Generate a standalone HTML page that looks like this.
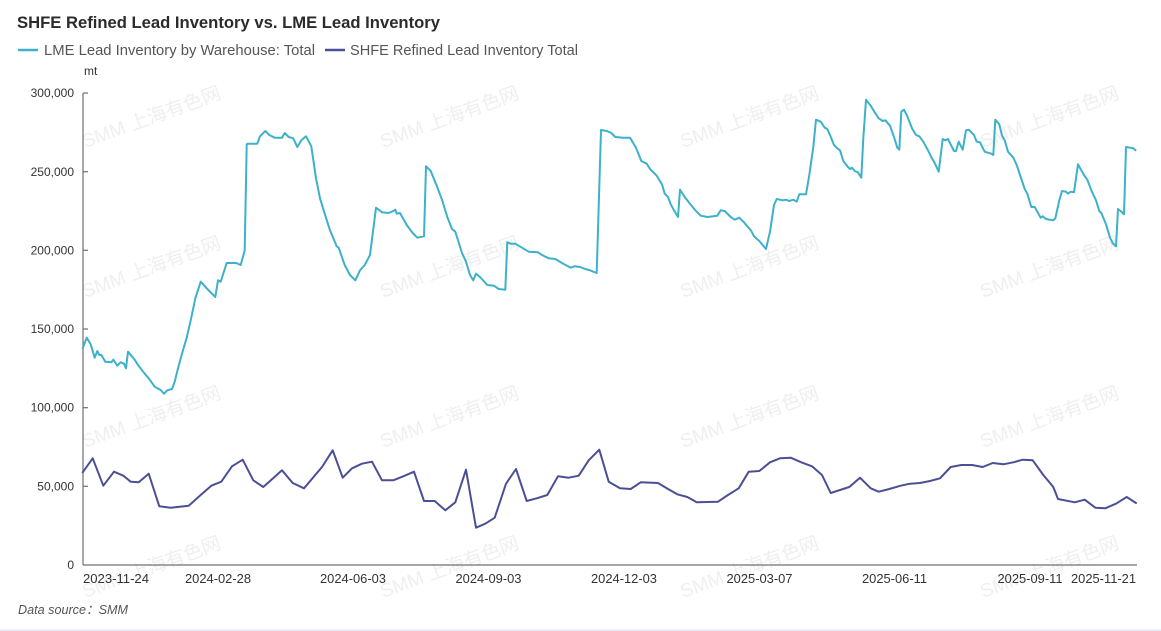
<!DOCTYPE html>
<html>
<head>
<meta charset="utf-8">
<style>
html,body{margin:0;padding:0;background:#fff;}
svg{display:block;}
text{font-family:"Liberation Sans","Noto Sans CJK SC",sans-serif;}
</style>
</head>
<body>
<svg width="1161" height="631" viewBox="0 0 1161 631" xmlns="http://www.w3.org/2000/svg">
<rect x="0" y="0" width="1161" height="631" fill="#ffffff"/>

<!-- watermarks -->
<g fill="#efefef" font-size="19">
<text x="85" y="148" transform="rotate(-20 85 148)" textLength="146" lengthAdjust="spacingAndGlyphs">SMM 上海有色网</text>
<text x="383" y="148" transform="rotate(-20 383 148)" textLength="146" lengthAdjust="spacingAndGlyphs">SMM 上海有色网</text>
<text x="683" y="148" transform="rotate(-20 683 148)" textLength="146" lengthAdjust="spacingAndGlyphs">SMM 上海有色网</text>
<text x="983" y="148" transform="rotate(-20 983 148)" textLength="146" lengthAdjust="spacingAndGlyphs">SMM 上海有色网</text>
<text x="85" y="298" transform="rotate(-20 85 298)" textLength="146" lengthAdjust="spacingAndGlyphs">SMM 上海有色网</text>
<text x="383" y="298" transform="rotate(-20 383 298)" textLength="146" lengthAdjust="spacingAndGlyphs">SMM 上海有色网</text>
<text x="683" y="298" transform="rotate(-20 683 298)" textLength="146" lengthAdjust="spacingAndGlyphs">SMM 上海有色网</text>
<text x="983" y="298" transform="rotate(-20 983 298)" textLength="146" lengthAdjust="spacingAndGlyphs">SMM 上海有色网</text>
<text x="85" y="448" transform="rotate(-20 85 448)" textLength="146" lengthAdjust="spacingAndGlyphs">SMM 上海有色网</text>
<text x="383" y="448" transform="rotate(-20 383 448)" textLength="146" lengthAdjust="spacingAndGlyphs">SMM 上海有色网</text>
<text x="683" y="448" transform="rotate(-20 683 448)" textLength="146" lengthAdjust="spacingAndGlyphs">SMM 上海有色网</text>
<text x="983" y="448" transform="rotate(-20 983 448)" textLength="146" lengthAdjust="spacingAndGlyphs">SMM 上海有色网</text>
<text x="85" y="598" transform="rotate(-20 85 598)" textLength="146" lengthAdjust="spacingAndGlyphs">SMM 上海有色网</text>
<text x="383" y="598" transform="rotate(-20 383 598)" textLength="146" lengthAdjust="spacingAndGlyphs">SMM 上海有色网</text>
<text x="683" y="598" transform="rotate(-20 683 598)" textLength="146" lengthAdjust="spacingAndGlyphs">SMM 上海有色网</text>
<text x="983" y="598" transform="rotate(-20 983 598)" textLength="146" lengthAdjust="spacingAndGlyphs">SMM 上海有色网</text>
</g>

<!-- title -->
<text x="17" y="28" font-size="16.7" font-weight="bold" fill="#2b2b2b" textLength="423" lengthAdjust="spacingAndGlyphs">SHFE Refined Lead Inventory vs. LME Lead Inventory</text>

<!-- legend -->
<line x1="18" y1="50" x2="38" y2="50" stroke="#3db1c9" stroke-width="2.5"/>
<text x="44" y="55" font-size="14.5" fill="#555" textLength="271" lengthAdjust="spacingAndGlyphs">LME Lead Inventory by Warehouse: Total</text>
<line x1="325" y1="50" x2="345" y2="50" stroke="#4b4f94" stroke-width="2.5"/>
<text x="350" y="55" font-size="14.5" fill="#555" textLength="228" lengthAdjust="spacingAndGlyphs">SHFE Refined Lead Inventory Total</text>

<!-- unit -->
<text x="84" y="75" font-size="12" fill="#333">mt</text>

<!-- y axis -->
<g stroke="#6e7079" stroke-width="1.2" fill="none">
<line x1="83" y1="93" x2="83" y2="565"/>
<line x1="83" y1="93" x2="88" y2="93"/>
<line x1="83" y1="171.7" x2="88" y2="171.7"/>
<line x1="83" y1="250.3" x2="88" y2="250.3"/>
<line x1="83" y1="329" x2="88" y2="329"/>
<line x1="83" y1="407.7" x2="88" y2="407.7"/>
<line x1="83" y1="486.3" x2="88" y2="486.3"/>
<line x1="83" y1="565" x2="1137" y2="565"/>
</g>
<g font-size="12" fill="#333" text-anchor="end">
<text x="74" y="97">300,000</text>
<text x="74" y="176">250,000</text>
<text x="74" y="254.5">200,000</text>
<text x="74" y="333">150,000</text>
<text x="74" y="411.5">100,000</text>
<text x="74" y="490.5">50,000</text>
<text x="74" y="569">0</text>
</g>

<!-- x labels -->
<g font-size="12.5" fill="#333">
<text x="83" y="583" textLength="66" lengthAdjust="spacingAndGlyphs">2023-11-24</text>
<text x="185" y="583" textLength="66" lengthAdjust="spacingAndGlyphs">2024-02-28</text>
<text x="320" y="583" textLength="66" lengthAdjust="spacingAndGlyphs">2024-06-03</text>
<text x="455.5" y="583" textLength="66" lengthAdjust="spacingAndGlyphs">2024-09-03</text>
<text x="591" y="583" textLength="66" lengthAdjust="spacingAndGlyphs">2024-12-03</text>
<text x="726.5" y="583" textLength="66" lengthAdjust="spacingAndGlyphs">2025-03-07</text>
<text x="862" y="583" textLength="65" lengthAdjust="spacingAndGlyphs">2025-06-11</text>
<text x="997.5" y="583" textLength="65" lengthAdjust="spacingAndGlyphs">2025-09-11</text>
<text x="1071" y="583" textLength="65" lengthAdjust="spacingAndGlyphs">2025-11-21</text>
</g>

<!-- LME series -->
<polyline fill="none" stroke="#3db1c9" stroke-width="2" stroke-linejoin="round" stroke-linecap="round" points="
82.7,348.3 86.7,337.7 90.7,344.3 94.7,357.7 97.3,351 99.3,355 101.3,355 105.3,361.7 111.3,362.3 113.3,359.7 117.3,365.7 120.7,362.3 124,363.7 126,368.3 128,351.7 134.7,359.7 138,365 144.7,373.7 148.7,378.3 154.7,386.7 160.7,390 164,393.7 167.3,390.3 172,389 174.7,381.7 178,368.3 182,353.7 186.7,337.7 191.3,317.7 195.3,298.3 200.7,281.7 206.7,288.3 211.3,293 215.3,297 218,280.3 220.7,281.7 226.7,263 236,263 240.7,265 244.7,250.3 246.7,144.3 248,143.7 257.3,143.7 260,136.3 265.3,131 269.3,135 274.7,137.7 282,137.7 284.7,133 288.7,137 293.3,138.3 297.3,147 301.3,140.3 306,136.3 311.3,146.3 316,178.3 320,198.3 324.7,213.7 330,230.3 336.7,246.3 338.7,247.7 344.7,265
350,275 355.3,280.3 360,270.3 364.7,265 370,255 376,207.7 382,212.3 388.7,213 393.3,211 395.3,209.7 396.7,213.7 400,213 406.7,225 412.7,233 417.3,237.7 424,236.3 426,166.3 430.7,171 436.7,185.7 442,199.7 447.3,217 452,229 455.3,231.7 462,253 466,261.7 470,275 473.3,280.3 476,273.7 480,277 487.3,285 494,285.7 498.7,289 505.3,289.7 507.3,242.3 510.7,243.7 515.3,243.7 522,247.7 528.7,251.7 538,252.3 542,255 548.7,258.3 555.3,259 562,263 570.7,267.7 574.7,266.3 580,267 585.3,269 590,270.3 596.7,273 601,130
606.7,131 611.3,133 615.3,137 623.3,137.7 630,137.7 636,147.7 641.3,161 646.7,163.7 650,169 656.7,175.7 662,184.3 664.7,193.7 668,197 670.7,204.3 674,210.3 678,217 680,189.7 684.7,197 690,203.7 695.3,210.3 700.7,215.7 707.3,217 717.3,215.7 720.7,210.3 724.7,211 730.7,217 734.7,219.7 739.3,217.7 744,222.3 751.3,231 754,236.3 759.3,241 766,249 770,231.7 774,205 776.7,199 782.7,200.3 786,199.7 789.3,201 793.3,199.7 796.7,201.7 799.3,194.3 806,194.3 809.3,175 813.3,147 816,119.7 820.7,121.7 824.7,127.7 827.3,129 830,135 834,145 837.3,148.3 840,150.3 843.3,161 848,167 850,169 852,167.7 854.7,171 858,172.3 861.3,177.7 863.3,138.3 866,99.7
870.7,105.7 874.7,112.3 878.7,118.3 882.7,121 885.3,120.3 890,125.7 894,137 897.3,147.7 899.3,149.7 901.3,111.7 904,109.7 907.3,116.3 912,128.3 916,135 919.3,136.3 923.3,141.7 928,150.3 931.3,157 934.7,163 938.7,171.7 942.7,139 945.3,140.3 948,139 954,151 956,151 958.7,141.7 962.7,149.7 966,130.3 968.7,129.7 974,135 976.7,141.7 980,142.3 984.7,151.7 991.3,153.7 993.3,155 995.3,119.7 999.3,124.3 1002,135.7 1004.7,140.3 1008,151.7 1013.3,157.7 1016.7,165 1020.7,177 1024.7,189 1027.3,193.7 1031.3,207 1034.7,207 1037.3,211.7 1040.7,217.7 1042.7,216.3 1046,219 1053.3,220.3 1055.3,218.3 1059.3,200.3 1062,191 1066,191.7 1068,193.7 1070.7,191.7 1074,192.3 1078,164.3 1081.3,170.3 1084,175 1087.3,179.7 1091.3,190.3 1096,200.3 1099.3,211 1101.3,213 1106,224.3 1110,237.7 1112.7,243 1116,246.3 1118,209 1120.7,211 1124,214.3 1126,147 1130,147.7 1133.3,148.3 1135.5,150.3"/>

<!-- SHFE series -->
<polyline fill="none" stroke="#4b4f94" stroke-width="2" stroke-linejoin="round" stroke-linecap="round" points="
82.7,472.3 92.7,458.3 103.3,485.7 114,471.7 123.3,475.7 130.7,481.7 138.7,482.3 148.7,473.7 159.3,506.3 170.7,507.7 188.7,505.7 200.7,495 211.3,485.7 221.3,481.7 232,466.3 242.7,459.7 253.3,480.3 263.3,487 282,470.3 292.7,483 304,488.3 322,467 332.7,450.3 342.7,477.7 352,468.3 362,463.7 372,461.7 382,480.3 393.3,480.3 403.3,476.3 414,471.7 424,501 434.7,501 445.3,510.3 455.3,502.3 466,469.7 476,527.7 485.3,523.7 494.7,517.7 506,483.7 516,469 526.7,501 536.7,498.3 547.3,495 558,476.3 568.7,477.7 578.7,475.7 588.7,460.3 599.3,449.7 608.7,481.7 620,488.3 630.7,489 640.7,482.3 658,483 668,489 677.3,494.3 687.3,497 696.7,502.3 718,501.7 728,495 738.7,488.3 748.7,471.7 759.3,471 770,462.3 780,458.3 790.7,457.7 801.3,462.3 812,466.3 822,475 830.7,493 849.3,487 860,477.7 870.7,488.3 878.7,491.7 889.3,489 900.7,485.7 910,483.7 920,483 930,481 940,478.3 950.7,467 961.3,465 972,465 982.7,467 992.7,463 1003.3,464.3 1013.3,462.3 1022.7,459.7 1032.7,460.3 1043.3,475 1053.3,487 1058,499 1074.7,502.3 1084.7,499.7 1095.3,507.7 1105.3,508.3 1116,503.7 1126.7,497 1136,503"/>

<!-- footer -->
<text x="18" y="614" font-size="13" font-style="italic" fill="#555" textLength="110" lengthAdjust="spacingAndGlyphs">Data source：SMM</text>
<rect x="0" y="629" width="1161" height="2" fill="#eceef5"/>
</svg>
</body>
</html>
